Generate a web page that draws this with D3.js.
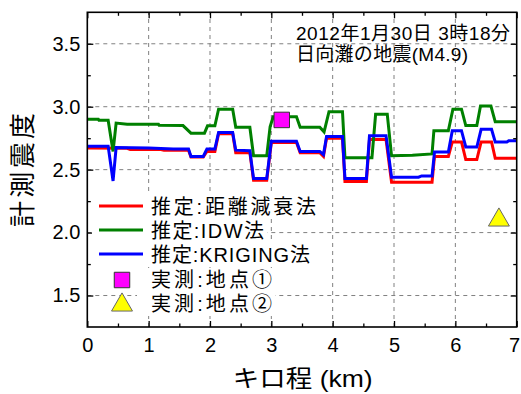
<!DOCTYPE html>
<html>
<head>
<meta charset="utf-8">
<script src="https://cdn.jsdelivr.net/npm/d3@7"></script>
<style>
  html, body { margin: 0; padding: 0; background: #fff; }
  svg { display: block; }
</style>
</head>
<body>
<svg id="chart" width="521" height="394"></svg>
<script>
// ---- data ----
const titleLines = ["2012年1月30日 3時18分", "日向灘の地震(M4.9)"];
const xTitle = "キロ程 (km)";
const yTitle = "計測震度";
const xTicks = [0, 1, 2, 3, 4, 5, 6, 7];
const xMinorTicks = [0.5, 1.5, 2.5, 3.5, 4.5, 5.5, 6.5];
const yTicks = [1.5, 2.0, 2.5, 3.0, 3.5];
const yMinorTicks = [1.75, 2.25, 2.75, 3.25];
const seriesNames = ["推定:距離減衰法", "推定:IDW法", "推定:KRIGING法", "実測:地点①", "実測:地点②"];

// estimated seismic intensity along the line, [km, intensity]
const attenuation = [
  [0, 2.672], [0.65, 2.67], [0.7, 2.66], [1.2, 2.66], [1.25, 2.655], [1.65, 2.655],
  [1.69, 2.60], [1.89, 2.60], [1.95, 2.645], [2.08, 2.645], [2.14, 2.785], [2.37, 2.785],
  [2.42, 2.635], [2.65, 2.635], [2.71, 2.415], [2.925, 2.415], [3.0, 2.715], [3.41, 2.715],
  [3.47, 2.635], [3.79, 2.635], [3.85, 2.605], [3.90, 2.75], [4.16, 2.75], [4.2, 2.405],
  [4.55, 2.405], [4.6, 2.74], [4.87, 2.74], [4.96, 2.40], [5.62, 2.40], [5.66, 2.605],
  [5.886, 2.605], [5.95, 2.72], [6.10, 2.72], [6.17, 2.58], [6.35, 2.58], [6.42, 2.72],
  [6.59, 2.72], [6.65, 2.59], [7.0, 2.59]
];
const idw = [
  [0, 2.90], [0.18, 2.90], [0.19, 2.893], [0.34, 2.893], [0.42, 2.645], [0.47, 2.87],
  [0.65, 2.86], [1.16, 2.86], [1.17, 2.853], [1.56, 2.85], [1.69, 2.79], [1.91, 2.79],
  [1.96, 2.848], [2.08, 2.848], [2.14, 2.98], [2.37, 2.98], [2.42, 2.837], [2.65, 2.837],
  [2.71, 2.61], [2.925, 2.61], [2.98, 2.84], [3.03, 2.92], [3.41, 2.92], [3.47, 2.837],
  [3.79, 2.837], [3.86, 2.80], [3.94, 2.96], [4.16, 2.96], [4.2, 2.595], [4.64, 2.595],
  [4.70, 2.94], [4.89, 2.94], [4.96, 2.61], [5.3, 2.615], [5.62, 2.625], [5.65, 2.81],
  [5.886, 2.81], [5.96, 2.98], [6.10, 2.98], [6.17, 2.85], [6.35, 2.85], [6.41, 3.005],
  [6.58, 3.005], [6.65, 2.88], [7.0, 2.88]
];
const kriging = [
  [0, 2.685], [0.34, 2.685], [0.42, 2.41], [0.47, 2.675], [1.0, 2.672], [1.4, 2.665],
  [1.65, 2.665], [1.69, 2.605], [1.89, 2.605], [1.95, 2.665], [2.08, 2.665], [2.14, 2.795],
  [2.37, 2.795], [2.42, 2.655], [2.65, 2.65], [2.71, 2.43], [2.925, 2.43], [3.0, 2.725],
  [3.41, 2.725], [3.47, 2.645], [3.79, 2.645], [3.85, 2.62], [3.90, 2.763], [4.16, 2.763],
  [4.2, 2.43], [4.55, 2.43], [4.6, 2.77], [4.87, 2.77], [4.96, 2.44], [5.40, 2.44],
  [5.45, 2.45], [5.62, 2.45], [5.66, 2.64], [5.886, 2.64], [5.95, 2.81], [6.10, 2.81],
  [6.17, 2.68], [6.35, 2.68], [6.42, 2.82], [6.59, 2.82], [6.65, 2.72], [6.84, 2.72],
  [6.87, 2.73], [7.0, 2.73]
];
// observed intensity at the two sites, [km, intensity]
const site1 = [[3.17, 2.895]];
const site2 = [[6.71, 2.10]];

// ---- layout ----
const FONT = '"Liberation Sans", Arial, "Noto Sans CJK JP", sans-serif';
const svg = d3.select("#chart");
const x = d3.scaleLinear().domain([0, 7]).range([87.3, 516.7]);
const y = d3.scaleLinear().domain([1.25, 3.75]).range([327, 12.3]);
const [x0, x1] = x.range();
const [yb, yt] = y.range();

svg.append("rect").attr("width", 521).attr("height", 394).attr("fill", "#fff");

// dashed grid
const grid = svg.append("g").attr("stroke", "#808080").attr("stroke-width", 1)
  .attr("stroke-dasharray", "4,4");
grid.selectAll("line.v").data(xTicks.slice(1, -1)).join("line").attr("class", "v")
  .attr("x1", d => x(d)).attr("x2", d => x(d)).attr("y1", yb).attr("y2", yt);
grid.selectAll("line.h").data(yTicks).join("line").attr("class", "h")
  .attr("x1", x0).attr("x2", x1).attr("y1", d => y(d)).attr("y2", d => y(d));

// series
svg.append("clipPath").attr("id", "plot-clip").append("rect")
  .attr("x", x0).attr("y", yt).attr("width", x1 - x0).attr("height", yb - yt);
const line = d3.line().x(d => x(d[0])).y(d => y(d[1]));
const series = [
  { data: attenuation, color: "#ff0000" },
  { data: idw, color: "#008000" },
  { data: kriging, color: "#0000ff" }
];
const lines = svg.append("g").attr("clip-path", "url(#plot-clip)");
lines.selectAll("path").data(series).join("path")
  .attr("d", d => line(d.data)).attr("fill", "none")
  .attr("stroke", d => d.color).attr("stroke-width", 3);

// observed points
const squareSym = d3.symbol(d3.symbolSquare, 240);
const triSym = d3.symbol(d3.symbolTriangle, 190);
svg.append("g").selectAll("path").data(site1).join("path")
  .attr("transform", d => `translate(${x(d[0])},${y(d[1])})`)
  .attr("d", squareSym).attr("fill", "#ff00ff").attr("stroke", "#333").attr("stroke-width", 1);
svg.append("g").selectAll("path").data(site2).join("path")
  .attr("transform", d => `translate(${x(d[0])},${y(d[1])})`)
  .attr("d", triSym).attr("fill", "#ffff00").attr("stroke", "#666").attr("stroke-width", 1);

// axes (ticks point inward on all four sides)
function styleAxis(g) {
  g.select(".domain").remove();
  g.selectAll(".tick line").attr("stroke", "#000").attr("stroke-width", 1.3);
  g.selectAll("text").attr("font-family", FONT).attr("fill", "#000");
}
const bottomAxis = svg.append("g").attr("transform", `translate(0,${yb})`)
  .call(d3.axisBottom(x).tickValues(xTicks).tickSize(-6).tickPadding(11).tickFormat(d3.format("d")))
  .call(styleAxis);
bottomAxis.selectAll("text").attr("font-size", 20);
// keep the last label inside the page edge
bottomAxis.selectAll(".tick text").filter(d => d === xTicks[xTicks.length - 1])
  .attr("text-anchor", "end").attr("dx", 3);
svg.append("g").attr("transform", `translate(0,${yb})`)
  .call(d3.axisBottom(x).tickValues(xMinorTicks).tickSize(-3.5).tickFormat(""))
  .call(styleAxis);
svg.append("g").attr("transform", `translate(0,${yt})`)
  .call(d3.axisTop(x).tickValues(xTicks).tickSize(-6).tickFormat(""))
  .call(styleAxis);
svg.append("g").attr("transform", `translate(0,${yt})`)
  .call(d3.axisTop(x).tickValues(xMinorTicks).tickSize(-3.5).tickFormat(""))
  .call(styleAxis);
svg.append("g").attr("transform", `translate(${x0},0)`)
  .call(d3.axisLeft(y).tickValues(yTicks).tickSize(-6).tickPadding(7).tickFormat(d3.format(".1f")))
  .call(styleAxis).selectAll("text").attr("font-size", 20);
svg.append("g").attr("transform", `translate(${x0},0)`)
  .call(d3.axisLeft(y).tickValues(yMinorTicks).tickSize(-3.5).tickFormat(""))
  .call(styleAxis);
svg.append("g").attr("transform", `translate(${x1},0)`)
  .call(d3.axisRight(y).tickValues(yTicks).tickSize(-6).tickFormat(""))
  .call(styleAxis);
svg.append("g").attr("transform", `translate(${x1},0)`)
  .call(d3.axisRight(y).tickValues(yMinorTicks).tickSize(-3.5).tickFormat(""))
  .call(styleAxis);

// frame
svg.append("rect").attr("x", x0).attr("y", yt).attr("width", x1 - x0).attr("height", yb - yt)
  .attr("fill", "none").attr("stroke", "#000").attr("stroke-width", 1.6);

// axis titles
svg.append("text").attr("x", (x0 + x1) / 2 + 0.7).attr("y", 387)
  .attr("text-anchor", "middle").attr("font-family", FONT).attr("font-size", 24)
  .attr("textLength", 140).attr("lengthAdjust", "spacingAndGlyphs").text(xTitle);
svg.append("text").attr("transform", "translate(32,170) rotate(-90)")
  .attr("text-anchor", "middle").attr("font-family", FONT).attr("font-size", 26)
  .attr("textLength", 114).attr("lengthAdjust", "spacing").text(yTitle);

// event caption
const caption = svg.append("g").attr("font-family", FONT).attr("font-size", 19);
caption.append("text").attr("x", 296).attr("y", 40).attr("textLength", 214)
  .attr("lengthAdjust", "spacing").text(titleLines[0]);
caption.append("text").attr("x", 296).attr("y", 61).attr("textLength", 172)
  .attr("lengthAdjust", "spacing").text(titleLines[1]);

// legend
const legendRows = [214, 238, 262, 287, 311];
const legendWidths = [165, 113, 159, 121, 121];
const legend = svg.append("g");
seriesNames.forEach((name, i) => {
  const base = legendRows[i];
  const bgStart = i < 3 ? 92 : 137;
  legend.append("rect").attr("x", bgStart).attr("y", base - 19)
    .attr("width", 151 + legendWidths[i] + 3 - bgStart).attr("height", 24).attr("fill", "#fff");
});
series.forEach((s, i) => {
  const ly = legendRows[i] - 8;
  legend.append("line").attr("x1", 99).attr("x2", 143).attr("y1", ly).attr("y2", ly)
    .attr("stroke", s.color).attr("stroke-width", 3);
});
legend.append("path").attr("transform", `translate(122,${legendRows[3] - 7})`)
  .attr("d", squareSym).attr("fill", "#ff00ff").attr("stroke", "#333").attr("stroke-width", 1);
legend.append("path").attr("transform", `translate(122,${legendRows[4] - 6})`)
  .attr("d", triSym).attr("fill", "#ffff00").attr("stroke", "#666").attr("stroke-width", 1);
seriesNames.forEach((name, i) => {
  legend.append("text").attr("x", 151).attr("y", legendRows[i])
    .attr("font-family", FONT).attr("font-size", 20)
    .attr("textLength", legendWidths[i]).attr("lengthAdjust", "spacing").text(name);
});
</script>
</body>
</html>
